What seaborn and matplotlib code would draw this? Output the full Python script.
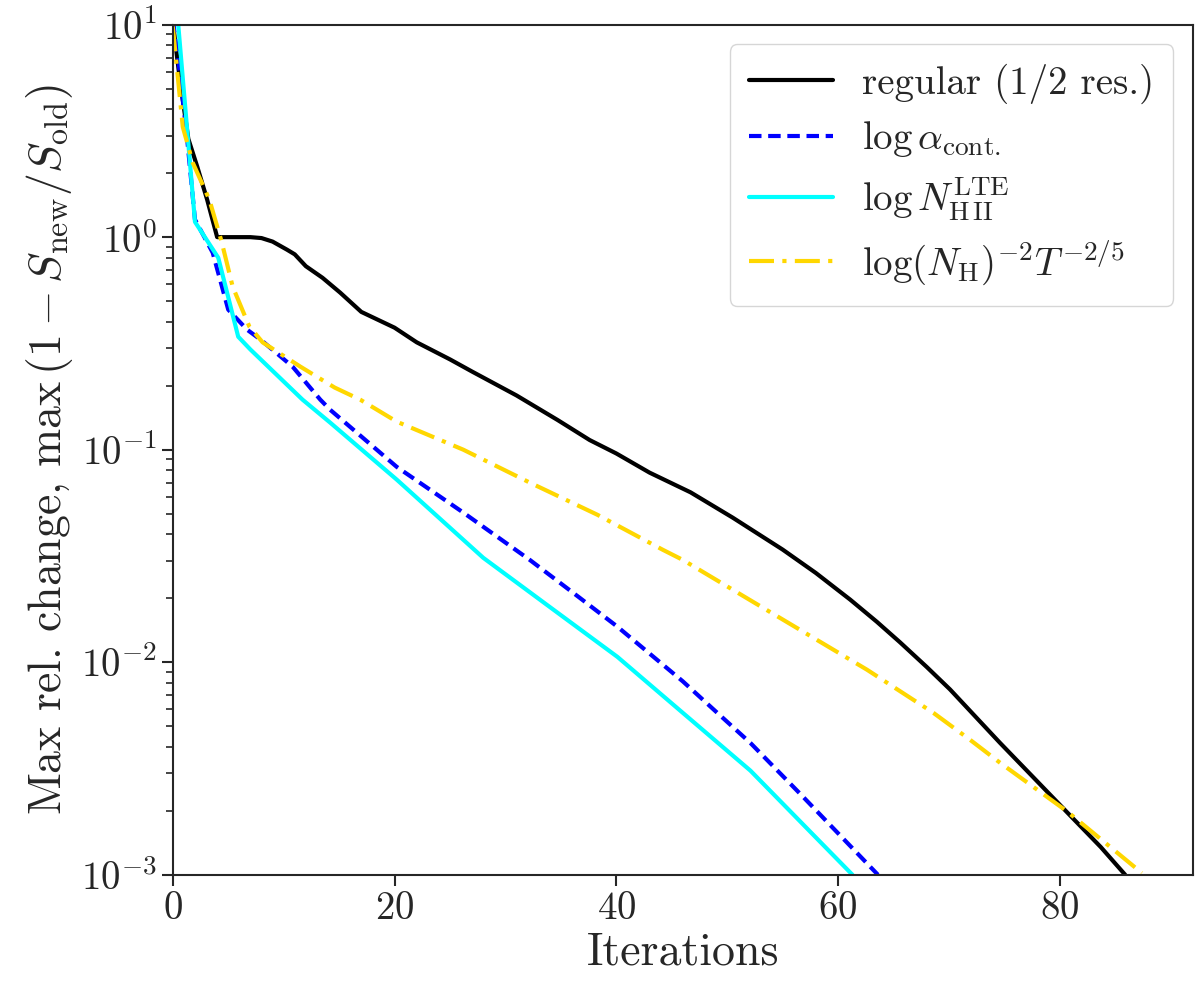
import pandas as pd
import matplotlib
matplotlib.use("Agg")
import matplotlib.pyplot as plt
import seaborn as sns

# values (iteration, max rel. change)
regular_x = [0, 0.6, 1.4, 2.2, 3.1, 4, 5, 6, 7, 8, 9, 10.3, 11, 12, 13.5, 15.1, 17, 20,
             22, 25, 27, 31, 34.7, 37.6, 40, 43, 46.7, 50.5, 55, 58, 61.1, 63.5, 65.6,
             68, 70.1, 74.6, 77.6, 81.2, 83.7, 85.9]
regular_y = [10.3, 5.7, 2.9, 2.15, 1.5, 1.0, 1.0, 1.0, 1.0, 0.99, 0.953, 0.873, 0.83, 0.73,
             0.644, 0.548, 0.445, 0.375, 0.32, 0.266, 0.233, 0.18, 0.138, 0.111, 0.096,
             0.078, 0.063, 0.0479, 0.0339, 0.0263, 0.0197, 0.0155, 0.0124, 0.0095,
             0.00745, 0.00418, 0.00288, 0.00184, 0.00135, 0.001]

alpha_x = [0, 0.5, 1.3, 2.0, 3.6, 5.0, 6.7, 7.9, 10.8, 13.3, 14.2, 20.2, 26.2, 32.2, 36.7,
           40.1, 46, 49, 52.1, 56.6, 63.6]
alpha_y = [10.5, 6.8, 2.88, 1.21, 0.845, 0.456, 0.367, 0.33, 0.246, 0.172, 0.154, 0.083,
           0.0506, 0.0303, 0.0201, 0.0147, 0.00813, 0.00585, 0.00417, 0.0024, 0.001]

nhii_x = [0, 2, 4.1, 5.9, 7.0, 11.7, 14.2, 20.2, 28, 34, 40.1, 46, 52.1, 58.1, 61.3]
nhii_y = [20, 1.18, 0.80, 0.34, 0.296, 0.172, 0.134, 0.0723, 0.031, 0.0182, 0.0106,
          0.00578, 0.00309, 0.00148, 0.001]

nh_x = [0, 0.9, 1.8, 3.3, 4.4, 5.4, 6.9, 8.1, 11.5, 14.6, 16.9, 20.2, 26.2, 32.2, 38.3,
        44.2, 46, 52, 62.6, 68.6, 71.9, 74.6, 80.7, 87.4]
nh_y = [9.8, 3.3, 2.24, 1.5, 0.953, 0.585, 0.38, 0.32, 0.246, 0.196, 0.172, 0.1355, 0.1,
        0.07, 0.0494, 0.0338, 0.0303, 0.0197, 0.00923, 0.00578, 0.00432, 0.00337,
        0.00198, 0.00102]

labels = [r"regular (1/2 res.)",
          r"$\log\alpha_{\rm cont.}$",
          r"$\log N_{\rm H\,II}^{\rm LTE}$",
          r"$\log(N_{\rm H})^{-2}T^{-2/5}$"]

sns.set_style("ticks")
plt.rcParams["font.family"] = "serif"
plt.rcParams["font.serif"] = ["cmr10", "DejaVu Serif"]
plt.rcParams["mathtext.fontset"] = "cm"
plt.rcParams["axes.formatter.use_mathtext"] = True
plt.rcParams["axes.unicode_minus"] = False

fig = plt.figure(figsize=(12, 9.84), dpi=100)
ax = fig.add_axes([0.144, 0.111, 0.85, 0.864])

series = [(regular_x, regular_y, "black", "-"),
          (alpha_x, alpha_y, "blue", (0, (3, 1.6))),
          (nhii_x, nhii_y, "cyan", "-"),
          (nh_x, nh_y, "gold", (0, (6, 2, 1, 2)))]

for (xs, ys, col, ls), lab in zip(series, labels):
    df = pd.DataFrame({"it": xs, "val": ys})
    sns.lineplot(data=df, x="it", y="val", ax=ax, color=col, linestyle=ls,
                 linewidth=3, label=lab, estimator=None, sort=False)

ax.set_yscale("log")
ax.set_xlim(0, 92)
ax.set_ylim(1e-3, 1e1)
ax.set_xticks([0, 20, 40, 60, 80])

ax.set_xlabel("Iterations", fontsize=33)
ax.set_ylabel(r"Max rel. change, max$\,(1-S_{\rm new}/S_{\rm old})$", fontsize=33)
ax.tick_params(axis="both", which="major", labelsize=28, length=8, width=1.5)
ax.tick_params(axis="y", which="minor", length=5, width=1.2)
for s in ax.spines.values():
    s.set_linewidth(1.5)

leg = ax.legend(loc="upper right", fontsize=28, handlelength=2.15, handletextpad=0.75,
                borderpad=0.5, labelspacing=0.4)

fig.savefig("out.png", dpi=100)
